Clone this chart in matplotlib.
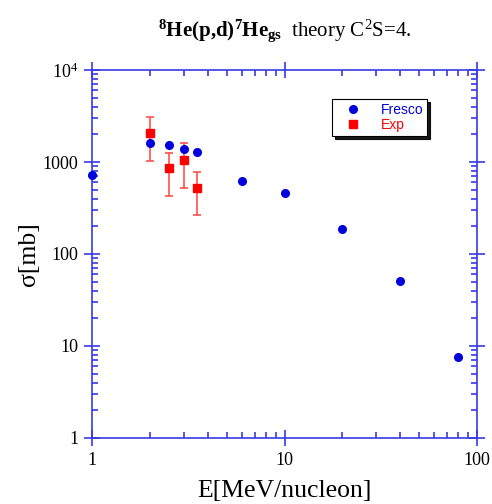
# -*- coding: utf-8 -*-
import numpy as np
import matplotlib
matplotlib.use('Agg')
import matplotlib.pyplot as plt
from matplotlib.ticker import LogLocator, FixedLocator, FixedFormatter, NullFormatter

# dados
fresco_E = [1, 2, 2.5, 3, 3.5, 6, 10, 20, 40, 80]
fresco_sig = [724, 1625, 1545, 1387, 1297, 619, 462, 188, 51, 7.5]

exp_E = [2, 2.5, 3, 3.5]
exp_sig = [2055, 856, 1054, 527]
exp_lo = [1028, 428, 527, 264]
exp_hi = [3110, 1265, 1592, 781]

yticks = [1, 10, 100, 1000, 10000]
ylabels = ['1', '10', '100', '1000', r'$10^{4}$']
xticks = [1, 10, 100]
xlabels = ['1', '10', '100']

plt.rcParams['font.family'] = 'Liberation Serif'
plt.rcParams['mathtext.fontset'] = 'custom'
plt.rcParams['mathtext.rm'] = 'Liberation Serif'
plt.rcParams['mathtext.bf'] = 'Liberation Serif:bold'
plt.rcParams['mathtext.it'] = 'Liberation Serif:italic'

azul = '#3a3ae6'

fig = plt.figure(figsize=(4.92, 5.04), dpi=100)
ax = fig.add_axes([92/492, (504-438)/504, 385/492, 368/504])
ax.set_xscale('log')
ax.set_yscale('log')
ax.set_xlim(1, 100)
ax.set_ylim(1, 1e4)

ax.plot(fresco_E, fresco_sig, 'o', color='#0000dd', markersize=5.5, label='Fresco',
        clip_on=False, zorder=5)
err = [np.array(exp_sig) - np.array(exp_lo), np.array(exp_hi) - np.array(exp_sig)]
ax.errorbar(exp_E, exp_sig, yerr=err, fmt='none', ecolor='#ff5050', elinewidth=1.2,
            capsize=3, capthick=1.2, zorder=3)
ax.plot(exp_E, exp_sig, 's', color='#ff0000', markersize=5.5, label='Exp', zorder=4)

for s in ax.spines.values():
    s.set_color(azul)
    s.set_linewidth(1.2)

ax.xaxis.set_major_locator(FixedLocator(xticks))
ax.xaxis.set_major_formatter(FixedFormatter(xlabels))
ax.yaxis.set_major_locator(FixedLocator(yticks))
ax.yaxis.set_major_formatter(FixedFormatter(ylabels))
ax.xaxis.set_minor_locator(LogLocator(base=10, subs=np.arange(2, 10)))
ax.yaxis.set_minor_locator(LogLocator(base=10, subs=np.arange(2, 10)))
ax.xaxis.set_minor_formatter(NullFormatter())
ax.yaxis.set_minor_formatter(NullFormatter())
ax.tick_params(which='major', direction='inout', length=12, width=1.2, color=azul,
               top=True, right=True, labelsize=13, pad=4)
ax.tick_params(which='minor', direction='in', length=4, width=1.2, color=azul,
               top=True, right=True)

ax.set_xlabel('E[MeV/nucleon]', fontsize=18.5, labelpad=8)
ax.set_ylabel('σ[mb]', fontsize=18.5, labelpad=2)

fig.text(0.578, 0.94, r'$\mathbf{^{8}He(p{,}d)^{7}He_{gs}}$  theory C$^{2}$S=4.',
         ha='center', va='center', fontsize=15)

leg = ax.legend(loc='upper left', bbox_to_anchor=(0.623, 0.921), frameon=True,
                fancybox=False, shadow={'color': 'black', 'alpha': 0.9}, edgecolor='black',
                prop={'family': 'Liberation Sans', 'size': 10}, handletextpad=0.8,
                borderpad=0.3, labelspacing=0.05, handlelength=2.4, borderaxespad=0)
leg.get_frame().set_linewidth(0.8)
for t, c in zip(leg.get_texts(), ['#0000dd', '#ff0000']):
    t.set_color(c)

plt.savefig('out.png', dpi=100)
plt.close()
